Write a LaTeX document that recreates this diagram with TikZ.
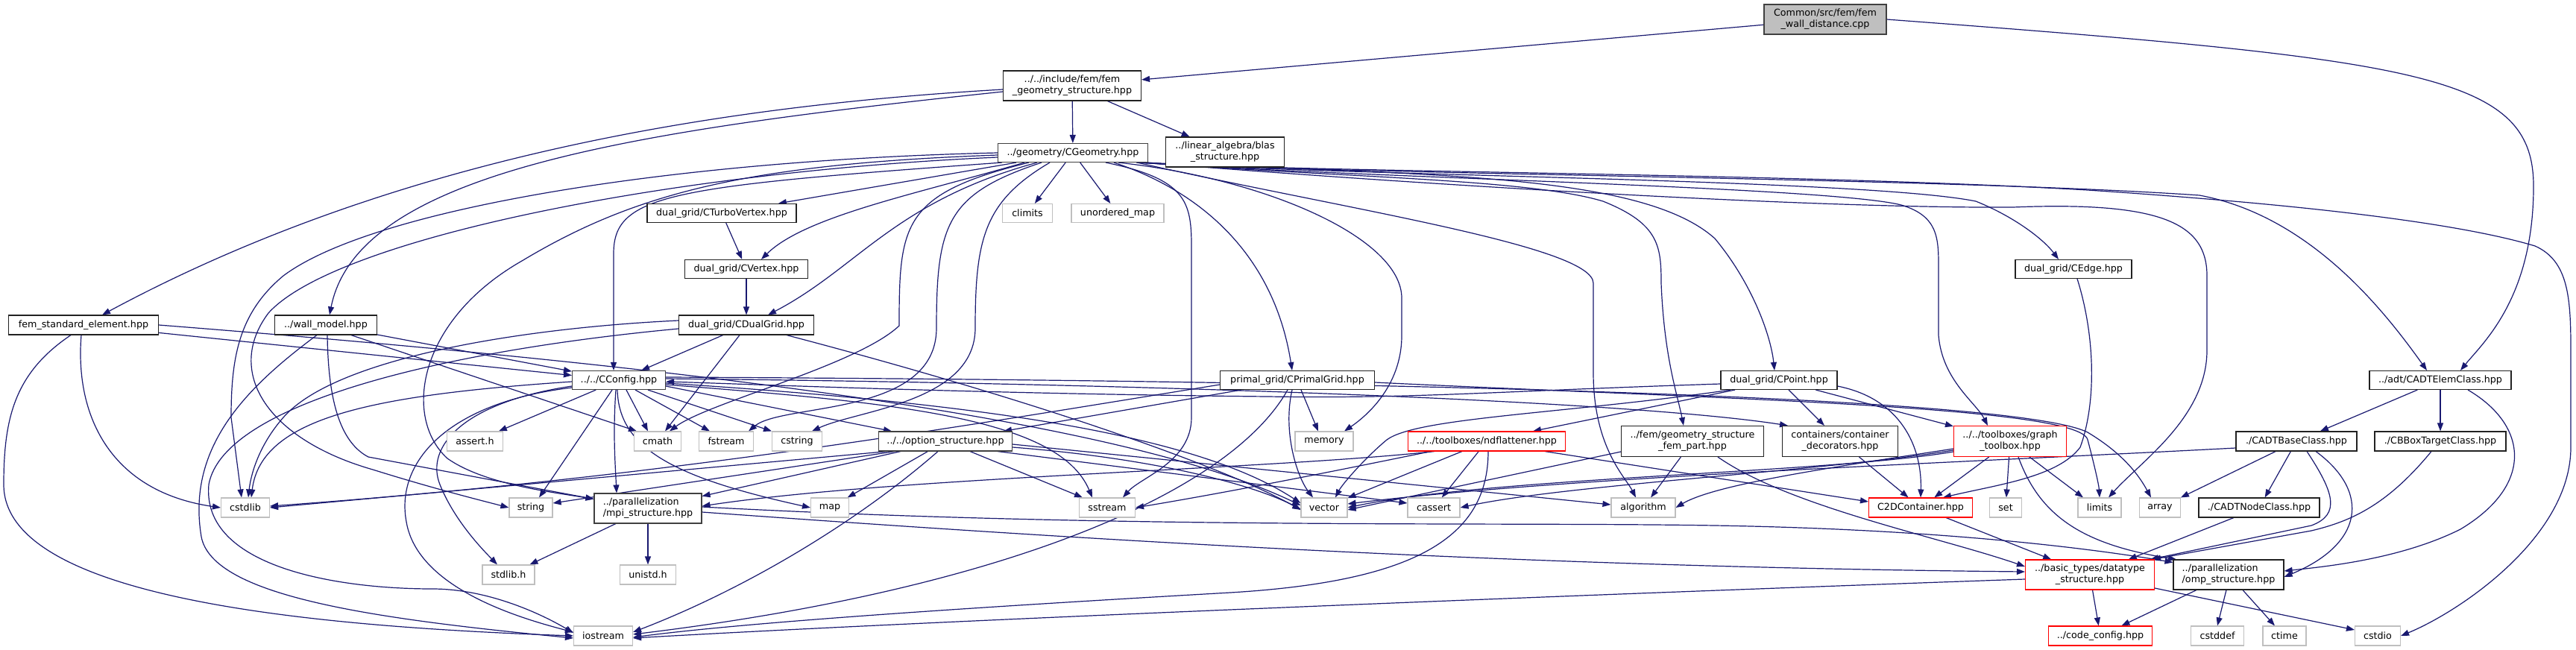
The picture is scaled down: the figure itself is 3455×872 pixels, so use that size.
\documentclass[tikz,border=0pt]{standalone}
\usepackage{fontspec}
\setmainfont{DejaVu Sans}
\usetikzlibrary{arrows.meta}
\definecolor{edgec}{HTML}{191970}
\definecolor{sysb}{HTML}{BFBFBF}
\definecolor{docb}{HTML}{222222}
\definecolor{rootf}{HTML}{BFBFBF}
\pgfdeclarelayer{bg}
\pgfsetlayers{bg,main}
\begin{document}
\begin{tikzpicture}[x=1pt,y=-1pt,
  box/.style={rectangle, inner sep=0pt, line width=1.1pt, font=\fontsize{12.7}{15}\selectfont, align=center, minimum height=26pt, text=black},
  doc/.style={box, draw=docb, fill=white},
  sys/.style={box, draw=sysb, fill=white},
  trunc/.style={box, draw=red, fill=white},
  ln/.style={draw=edgec, line width=1.2pt, -{Triangle[length=11pt,width=8pt]}}]
\useasboundingbox (0,0) rectangle (3455,872);
% ---------------- nodes
\node[doc, fill=rootf, draw=black!75, minimum width=164pt, minimum height=40pt] (root) at (2448,26) {Common/src/fem/fem\\\_wall\_distance.cpp};
\node[doc, minimum width=185pt, minimum height=40pt] (femgeom) at (1438,115) {../../include/fem/fem\\\_geometry\_structure.hpp};
\node[doc, draw=black!75, minimum width=201pt, minimum height=25pt] (cgeom) at (1439,205) {../geometry/CGeometry.hpp};
\node[doc, minimum width=159pt, minimum height=40pt] (blas) at (1643,204) {../linear\_algebra/blas\\\_structure.hpp};
\node[doc, minimum width=200pt, minimum height=25pt] (cturbo) at (968,286) {dual\_grid/CTurboVertex.hpp};
\node[sys, minimum width=67pt, minimum height=25pt] (climits) at (1378,286) {climits};
\node[sys, minimum width=124pt, minimum height=25pt] (unordmap) at (1499,286) {unordered\_map};
\node[doc, minimum width=165pt, minimum height=25pt] (cvertex) at (1001,361) {dual\_grid/CVertex.hpp};
\node[doc, minimum width=156pt, minimum height=25pt] (cedge) at (2781,361) {dual\_grid/CEdge.hpp};
\node[doc, minimum width=201pt] (femstd) at (112,436) {fem\_standard\_element.hpp};
\node[doc, minimum width=137pt] (wallmodel) at (437,436) {../wall\_model.hpp};
\node[doc, minimum width=181pt] (cdual) at (1001,436) {dual\_grid/CDualGrid.hpp};
\node[doc, draw=black!75, minimum width=125pt, minimum height=25pt] (cconfig) at (830,510) {../../CConfig.hpp};
\node[doc, minimum width=207pt, minimum height=25pt] (cprimal) at (1740,510) {primal\_grid/CPrimalGrid.hpp};
\node[doc, minimum width=156pt, minimum height=25pt] (cpoint) at (2386,510) {dual\_grid/CPoint.hpp};
\node[doc, minimum width=190pt, minimum height=25pt] (adtelem) at (3273,510) {../adt/CADTElemClass.hpp};
\node[sys, minimum width=75pt] (asserth) at (637,592) {assert.h};
\node[sys, minimum width=63pt] (cmath) at (882,592) {cmath};
\node[sys, minimum width=73pt] (fstream) at (974,592) {fstream};
\node[sys, minimum width=67pt] (cstring) at (1069,592) {cstring};
\node[doc, draw=black!75, minimum width=179pt] (option) at (1268,592) {../../option\_structure.hpp};
\node[sys, minimum width=78pt] (memory) at (1776,592) {memory};
\node[trunc, minimum width=211pt] (ndflat) at (1994,592) {../../toolboxes/ndflattener.hpp};
\node[doc, minimum width=191pt, minimum height=41pt] (fempart) at (2270,592) {../fem/geometry\_structure\\\_fem\_part.hpp};
\node[doc, minimum width=155pt, minimum height=41pt] (containers) at (2468,592) {containers/container\\\_decorators.hpp};
\node[trunc, minimum width=151pt, minimum height=41pt] (graph) at (2696,592) {../../toolboxes/graph\\\_toolbox.hpp};
\node[doc, minimum width=162pt] (adtbase) at (3080,592) {./CADTBaseClass.hpp};
\node[doc, minimum width=176pt] (bbox) at (3273,592) {./CBBoxTargetClass.hpp};
\node[sys, minimum width=65pt] (hcstdlib) at (329,681) {cstdlib};
\node[sys, minimum width=58pt] (hstring) at (712,681) {string};
\node[doc, draw=black!75, minimum width=144pt, minimum height=40pt, align=left] (mpi) at (869,682) {../parallelization\\/mpi\_structure.hpp};
\node[sys, minimum width=51pt] (hmap) at (1113,681) {map};
\node[sys, minimum width=75pt] (sstream) at (1485,681) {sstream};
\node[sys, minimum width=62pt] (hvector) at (1776,681) {vector};
\node[sys, minimum width=70pt] (cassert) at (1923,681) {cassert};
\node[sys, minimum width=86pt] (algorithm) at (2204,681) {algorithm};
\node[trunc, minimum width=139pt] (c2d) at (2576,681) {C2DContainer.hpp};
\node[sys, minimum width=43pt] (hset) at (2690,681) {set};
\node[sys, minimum width=58pt] (limits) at (2816,681) {limits};
\node[sys, minimum width=55pt] (harray) at (2897,681) {array};
\node[doc, minimum width=162pt] (adtnode) at (3030,681) {./CADTNodeClass.hpp};
\node[sys, minimum width=70pt] (stdlibh) at (682,771) {stdlib.h};
\node[sys, minimum width=75pt] (unistd) at (869,771) {unistd.h};
\node[trunc, minimum width=173pt, minimum height=40pt] (datatype) at (2803,771) {../basic\_types/datatype\\\_structure.hpp};
\node[doc, minimum width=148pt, minimum height=40pt, align=left] (omp) at (2989,771) {../parallelization\\/omp\_structure.hpp};
\node[sys, minimum width=79pt] (iostream) at (809,853) {iostream};
\node[trunc, minimum width=139pt] (codeconfig) at (2817,853) {../code\_config.hpp};
\node[sys, minimum width=71pt] (cstddef) at (2974,853) {cstddef};
\node[sys, minimum width=58pt] (ctime) at (3064,853) {ctime};
\node[sys, minimum width=61pt] (cstdio) at (3189,853) {cstdio};
% ---------------- edges
\begin{pgfonlayer}{bg}
\fill[white] (0,0) rectangle (3455,872);
% root
\draw[ln] (root) -- (femgeom);
\draw[ln] (root.east) .. controls (3250,80) and (3398,100) .. (3398,250) .. controls (3398,400) and (3330,460) .. ([xshift=27pt]adtelem.north);
% femgeom
\draw[ln] (femgeom) -- (cgeom);
\draw[ln] (femgeom) -- (blas);
\draw[ln] ([yshift=-5pt]femgeom.west) .. controls (1000,140) and (550,200) .. ([xshift=25pt]femstd.north);
\draw[ln] ([yshift=-8pt]femgeom.west) .. controls (850,175) and (480,230) .. ([xshift=5pt]wallmodel.north);
% cgeom
\draw[ln] (cgeom) -- (cturbo);
\draw[ln] ([xshift=-65pt]cgeom.south) .. controls (1230,260) and (1080,290) .. ([xshift=20pt]cvertex.north);
\draw[ln] ([xshift=-48pt]cgeom.south) .. controls (1200,270) and (1150,360) .. ([xshift=29pt]cdual.north);
\draw[ln] ([xshift=-95pt]cgeom.south) .. controls (900,250) and (823,260) .. (823,340) -- ([xshift=-7pt]cconfig.north);
\draw[ln] (cgeom) -- (climits);
\draw[ln] (cgeom) -- (unordmap);
\draw[ln] ([xshift=-59pt]cgeom.south) .. controls (1210,260) and (1206,300) .. (1206,437) .. controls (1150,490) and (950,540) .. ([xshift=16pt]cmath.north);
\draw[ln] ([xshift=-42pt]cgeom.south) .. controls (1270,260) and (1256,300) .. (1256,440) .. controls (1256,560) and (1050,540) .. ([xshift=30pt]fstream.north);
\draw[ln] ([xshift=-31pt]cgeom.south) .. controls (1320,270) and (1308,320) .. (1308,440) .. controls (1308,540) and (1150,550) .. ([xshift=20pt]cstring.north);
\draw[ln] ([xshift=44pt]cgeom.south) .. controls (1590,240) and (1598,270) .. (1598,330) -- (1598,560) .. controls (1598,620) and (1530,640) .. ([xshift=21pt]sstream.north);
\draw[ln] ([xshift=55pt]cgeom.south) .. controls (1620,260) and (1710,350) .. ([xshift=-7pt]cprimal.north);
\draw[ln] ([xshift=61pt]cgeom.south) .. controls (1700,240) and (1880,320) .. (1880,400) -- (1880,450) .. controls (1880,520) and (1830,560) .. ([xshift=27pt]memory.north);
\draw[ln] ([xshift=86pt]cgeom.south) .. controls (1800,280) and (2137,330) .. (2137,380) -- (2137,500) .. controls (2137,600) and (2180,640) .. ([xshift=-10pt]algorithm.north);
\draw[ln] ([xshift=-10pt]cgeom.south east) .. controls (1800,238) and (2050,240) .. (2150,270) .. controls (2225,300) and (2228,330) .. (2228,380) .. controls (2232,480) and (2250,530) .. ([xshift=-12pt]fempart.north);
\draw[ln] ([xshift=-6pt]cgeom.south east) .. controls (1900,235) and (2200,230) .. (2300,320) .. controls (2350,380) and (2375,450) .. ([xshift=-6pt]cpoint.north);
\draw[ln] ([xshift=-4pt]cgeom.south east) .. controls (1800,238) and (2450,250) .. (2550,275) .. controls (2600,290) and (2600,320) .. (2600,360) -- (2600,450) .. controls (2605,510) and (2650,540) .. ([xshift=-30pt]graph.north);
\draw[ln] ([xshift=-2pt]cgeom.south east) .. controls (1800,240) and (2400,280) .. (2700,278) .. controls (2900,270) and (2960,300) .. (2960,370) -- (2960,470) .. controls (2960,560) and (2870,620) .. ([xshift=12pt]limits.north);
\draw[ln] ([xshift=-12pt]cgeom.south east) .. controls (1800,236) and (2500,240) .. (2650,270) .. controls (2700,290) and (2740,320) .. ([xshift=-20pt]cedge.north);
\draw[ln] ([xshift=-14pt]cgeom.south east) .. controls (1800,234) and (2600,238) .. (2950,262) .. controls (3100,290) and (3200,420) .. ([xshift=-18pt]adtelem.north);
\draw[ln] ([xshift=-16pt]cgeom.south east) .. controls (1800,232) and (2400,232) .. (2800,255) .. controls (3100,275) and (3300,300) .. (3400,330) .. controls (3445,350) and (3448,400) .. (3448,470) -- (3448,600) .. controls (3448,720) and (3300,820) .. (cstdio.east);
\draw[ln] ([yshift=-3pt]cgeom.west) .. controls (1000,220) and (850,260) .. (700,350) .. controls (560,430) and (540,560) .. (600,615) .. controls (650,650) and (740,660) .. ([yshift=-8pt]mpi.north west);
\draw[ln] (cgeom.west) .. controls (900,215) and (500,280) .. (380,370) .. controls (320,420) and (310,480) .. (310,560) -- ([xshift=-5pt]hcstdlib.north);
\draw[ln] ([yshift=-6pt]cgeom.west) .. controls (900,230) and (450,320) .. (360,420) .. controls (300,500) and (360,590) .. (500,630) .. controls (580,655) and (640,670) .. (hstring.west);
% turbo, vertex
\draw[ln] (cturbo) -- (cvertex);
\draw[ln] (cvertex) -- (cdual);
% femstd
\draw[ln] (femstd) -- (cconfig);
\draw[ln] (femstd.east) .. controls (900,490) and (1500,560) .. ([yshift=3pt]hvector.west);
\draw[ln] ([xshift=-3pt]femstd.south) .. controls (100,560) and (150,660) .. (hcstdlib.west);
\draw[ln] ([xshift=-17pt]femstd.south) .. controls (20,500) and (5,560) .. (5,650) .. controls (5,800) and (400,840) .. (iostream.west);
% wallmodel
\draw[ln] (wallmodel) -- (cconfig);
\draw[ln] ([xshift=34pt]wallmodel.south) -- ([xshift=-28pt]cmath.north);
\draw[ln] ([xshift=2pt]wallmodel.south) .. controls (440,520) and (450,590) .. (494,613) -- ([yshift=-8pt]mpi.north west);
\draw[ln] ([xshift=-12pt]wallmodel.south) .. controls (330,520) and (250,600) .. (270,720) .. controls (285,800) and (500,830) .. ([yshift=-3pt]iostream.west);
% cdual
\draw[ln] (cdual) -- (cconfig);
\draw[ln] ([xshift=-9pt]cdual.south) -- ([xshift=10pt]cmath.north);
\draw[ln] ([xshift=54pt]cdual.south) .. controls (1400,540) and (1650,630) .. ([yshift=-3pt]hvector.west);
\draw[ln] ([yshift=6pt]cdual.west) .. controls (700,440) and (450,480) .. (380,560) .. controls (345,600) and (336,640) .. ([xshift=4pt]hcstdlib.north);
\draw[ln] ([yshift=-5pt]cdual.west) .. controls (600,470) and (300,540) .. (280,650) .. controls (270,760) and (450,790) .. (580,790) .. controls (650,790) and (720,820) .. ([yshift=4pt]iostream.west);
% cconfig
\draw[ln] (cconfig) -- (asserth);
\draw[ln] ([xshift=10pt]cconfig.south) -- ([xshift=-13pt]cmath.north);
\draw[ln] ([xshift=22pt]cconfig.south) -- ([xshift=-22pt]fstream.north);
\draw[ln] ([xshift=39pt]cconfig.south) -- ([xshift=-34pt]cstring.north);
\draw[ln] ([yshift=-8pt]cconfig.east) -- ([xshift=-72pt]option.north);
\draw[ln] ([xshift=-9pt]cconfig.south) -- ([xshift=11pt]hstring.north);
\draw[ln] ([xshift=-4pt]cconfig.south) .. controls (822,580) and (825,620) .. ([xshift=-42pt]mpi.north);
\draw[ln] ([yshift=-8pt]cconfig.west) .. controls (620,540) and (570,600) .. (590,650) .. controls (610,700) and (650,740) .. ([xshift=-15pt]stdlibh.north);
\draw[ln] ([yshift=-10pt]cconfig.west) .. controls (600,540) and (530,620) .. (545,700) .. controls (560,790) and (700,830) .. ([yshift=5pt]iostream.west);
\draw[ln] ([yshift=-2pt]cconfig.west) .. controls (500,530) and (350,560) .. ([xshift=8pt]hcstdlib.north);
\draw[ln] ([xshift=-2pt]cconfig.south) .. controls (830,600) and (900,640) .. (hmap.west);
\draw[ln] ([yshift=-6pt]cconfig.east) .. controls (1200,540) and (1420,560) .. ([xshift=-20pt]sstream.north);
\draw[ln] ([yshift=-4pt]cconfig.east) .. controls (1300,540) and (1600,580) .. ([yshift=6pt]hvector.west);
\draw[ln] ([yshift=2pt]cconfig.east) .. controls (1600,515) and (2200,540) .. ([xshift=-70pt]containers.north);
\draw[ln] ([yshift=4pt]cconfig.east) .. controls (1800,510) and (2700,530) .. (2800,580) .. controls (2850,610) and (2870,640) .. ([xshift=-12pt]harray.north);
% cpoint
\draw[ln] ([yshift=-5pt]cpoint.west) .. controls (2000,525) and (1900,535) .. (1700,532) .. controls (1300,528) and (1000,515) .. ([yshift=-2pt]cconfig.east);
\draw[ln] ([xshift=-59pt]cpoint.south) -- ([xshift=62pt]ndflat.north);
\draw[ln] ([xshift=-65pt]cpoint.south) .. controls (2100,555) and (1900,560) .. (1860,590) .. controls (1830,615) and (1800,650) .. ([xshift=15pt]hvector.north);
\draw[ln] (cpoint) -- (containers);
\draw[ln] (cpoint) -- (graph);
\draw[ln] ([yshift=-8pt]cpoint.east) .. controls (2550,535) and (2578,600) .. (c2d.north);
% option
\draw[ln] (option) -- (mpi);
\draw[ln] (option) -- (hmap);
\draw[ln] ([xshift=-10pt]option.south) .. controls (1150,700) and (1000,790) .. ([yshift=5pt]iostream.east);
\draw[ln] (option) -- (sstream);
\draw[ln] ([xshift=-78pt]option.south) -- (hcstdlib.east);
\draw[ln] ([xshift=-68pt]option.south) -- ([yshift=6pt]hstring.east);
\draw[ln] ([yshift=-8pt]option.east) .. controls (1550,615) and (1680,650) .. ([yshift=-2pt]hvector.west);
\draw[ln] ([xshift=70pt]option.south) -- ([yshift=6pt]cassert.west);
\draw[ln] ([yshift=-4pt]option.east) -- ([yshift=4pt]algorithm.west);
% cprimal
\draw[ln] (cprimal) -- (option);
\draw[ln] ([xshift=5pt]cprimal.south) -- ([xshift=-8pt]memory.north);
\draw[ln] ([xshift=-7pt]cprimal.south) .. controls (1720,580) and (1740,640) .. ([xshift=-15pt]hvector.north);
\draw[ln] ([xshift=-13pt]cprimal.south) .. controls (1650,660) and (1350,790) .. ([yshift=2pt]iostream.east);
\draw[ln] ([yshift=-6pt]cprimal.west) .. controls (1300,570) and (900,640) .. ([yshift=2pt]hcstdlib.east);
\draw[ln] ([yshift=-3pt]cprimal.east) .. controls (2300,535) and (2790,545) .. (2800,590) .. controls (2808,620) and (2815,650) .. (limits.north);
% cedge
\draw[ln] ([xshift=5pt]cedge.south) .. controls (2810,450) and (2812,540) .. (2790,600) .. controls (2760,640) and (2680,650) .. ([xshift=30pt]c2d.north);
% containers
\draw[ln] (containers) -- (c2d);
% graph
\draw[ln] (graph) -- (c2d);
\draw[ln] (graph) -- (hset);
\draw[ln] ([xshift=26pt]graph.south) -- ([xshift=-22pt]limits.north);
\draw[ln] ([xshift=11pt]graph.south) .. controls (2735,690) and (2790,730) .. ([xshift=-70pt]omp.north);
\draw[ln] ([yshift=-14pt]graph.west) .. controls (2450,635) and (2000,640) .. (hvector.east);
\draw[ln] ([yshift=-12pt]graph.west) .. controls (2450,632) and (2100,650) .. (cassert.east);
\draw[ln] ([yshift=-10pt]graph.west) .. controls (2450,628) and (2300,650) .. (algorithm.east);
% fempart
\draw[ln] ([yshift=-14pt]fempart.west) -- ([yshift=-3pt]hvector.east);
\draw[ln] (fempart) -- (algorithm);
\draw[ln] ([xshift=34pt]fempart.south) .. controls (2400,680) and (2600,720) .. ([yshift=11pt]datatype.west);
% ndflat
\draw[ln] ([xshift=-70pt]ndflat.south) .. controls (1700,630) and (1200,640) .. ([yshift=3pt]mpi.east);
\draw[ln] ([xshift=-75pt]ndflat.south) .. controls (1800,630) and (1650,660) .. (sstream.east);
\draw[ln] (ndflat) -- (hvector);
\draw[ln] (ndflat) -- (cassert);
\draw[ln] ([xshift=2pt]ndflat.south) .. controls (1996,720) and (1900,780) .. (1650,795) .. controls (1300,815) and (1000,835) .. ([yshift=-2pt]iostream.east);
\draw[ln] ([xshift=78pt]ndflat.south) -- ([yshift=8pt]c2d.west);
% c2d
\draw[ln] (c2d) -- (datatype);
% adt
\draw[ln] (adtelem) -- (adtbase);
\draw[ln] (adtelem) -- (bbox);
\draw[ln] ([xshift=37pt]adtelem.south) .. controls (3390,570) and (3400,650) .. (3300,710) .. controls (3220,750) and (3120,760) .. ([yshift=5pt]omp.east);
\draw[ln] (adtbase) -- (harray);
\draw[ln] (adtbase) -- (adtnode);
\draw[ln] ([xshift=14pt]adtbase.south) .. controls (3130,660) and (3140,690) .. (3100,705) -- ([xshift=-6pt]datatype.north east);
\draw[ln] ([xshift=26pt]adtbase.south) .. controls (3180,660) and (3170,730) .. ([yshift=-3pt]omp.east);
\draw[ln] ([yshift=-9pt]adtbase.west) .. controls (2600,622) and (2100,640) .. ([yshift=5pt]hvector.east);
\draw[ln] ([xshift=-12pt]bbox.south) .. controls (3200,680) and (3150,700) .. (3100,712) -- ([xshift=-3pt]datatype.north east);
\draw[ln] (adtnode) -- (datatype);
% mpi
\draw[ln] (mpi) -- (stdlibh);
\draw[ln] (mpi) -- (unistd);
\draw[ln] ([yshift=-5pt]mpi.east) .. controls (1400,720) and (2000,760) .. ([yshift=4pt]datatype.west);
\draw[ln] ([yshift=2pt]mpi.east) .. controls (1500,710) and (2000,700) .. (2300,705) .. controls (2600,710) and (2800,735) .. ([yshift=-4pt]omp.north west);
% datatype
\draw[ln] (datatype) -- (codeconfig);
\draw[ln] ([yshift=-18pt]datatype.east) -- ([yshift=8pt]cstdio.west);
\draw[ln] ([yshift=-6pt]datatype.west) .. controls (2200,795) and (1300,830) .. ([yshift=-3pt]iostream.east);
% omp
\draw[ln] (omp) -- (codeconfig);
\draw[ln] ([xshift=-3pt]omp.south) -- (cstddef.north);
\draw[ln] ([xshift=19pt]omp.south) -- ([xshift=-13pt]ctime.north);
\end{pgfonlayer}
\end{tikzpicture}
\end{document}
